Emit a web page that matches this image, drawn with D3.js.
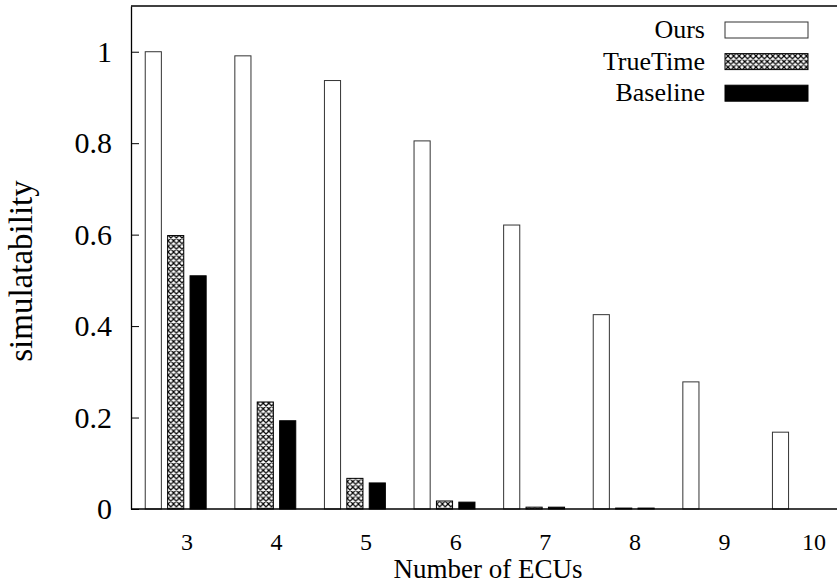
<!DOCTYPE html>
<html>
<head>
<meta charset="utf-8">
<script src="https://cdn.jsdelivr.net/npm/d3@7"></script>
<style>
  html, body { margin: 0; padding: 0; background: #fff; }
  svg { display: block; }
  text { font-family: "Liberation Serif", "Times New Roman", serif; fill: #000; }
</style>
</head>
<body>
<svg id="chart" width="837" height="584"></svg>
<script>
const categories = ["3", "4", "5", "6", "7", "8", "9", "10"];
const seriesNames = ["Ours", "TrueTime", "Baseline"];
const ours     = [1.0, 0.991, 0.937, 0.805, 0.621, 0.425, 0.278, 0.168];
const trueTime = [0.598, 0.234, 0.067, 0.0175, 0.004, 0.002, 0, 0];
const baseline = [0.510, 0.193, 0.057, 0.015, 0.004, 0.002, 0, 0];
const yTicks = [0, 0.2, 0.4, 0.6, 0.8, 1];
const yTickLabels = ["0", "0.2", "0.4", "0.6", "0.8", "1"];

const seriesValues = [ours, trueTime, baseline];

const svg = d3.select("#chart");
const W = 837, H = 584;
const plot = { left: 131, top: 6, bottom: 509 };

// crosshatch pattern
const defs = svg.append("defs");
const P = 5.6;
const pat = defs.append("pattern")
  .attr("id", "xhatch").attr("patternUnits", "userSpaceOnUse")
  .attr("width", P).attr("height", P);
pat.append("rect").attr("width", P).attr("height", P).attr("fill", "#fff");
pat.append("path")
  .attr("d", `M0,0 L${P},${P} M${P},0 L0,${P} M-1,${P-1} L1,${P+1} M${P-1},-1 L${P+1},1 M-1,1 L1,-1 M${P-1},${P+1} L${P+1},${P-1}`)
  .attr("stroke", "#000").attr("stroke-width", 1.2);

const fills = ["#fff", "url(#xhatch)", "#000"];

const step = 89.6;
const x = d3.scaleBand()
  .domain(categories)
  .range([142.1, 142.1 + step * categories.length])
  .paddingInner(0).paddingOuter(0);
const slot = step / 4;
const xs = d3.scaleBand()
  .domain(seriesNames)
  .range([0, slot * 3])
  .paddingInner(0.28).paddingOuter(0.14);

const y = d3.scaleLinear().domain([0, 1.1]).range([plot.bottom, plot.top]);

// bars
seriesNames.forEach((s, si) => {
  svg.append("g").selectAll("rect")
    .data(categories.map((c, i) => ({ c, v: seriesValues[si][i] })))
    .join("rect")
    .attr("x", d => x(d.c) + xs(s))
    .attr("width", xs.bandwidth())
    .attr("y", d => y(d.v))
    .attr("height", d => y(0) - y(d.v))
    .attr("fill", fills[si])
    .attr("stroke", si === 0 ? "#333" : "#000")
    .attr("stroke-width", d => d.v > 0 ? 1 : 0);
});

// frame: top and bottom
svg.append("line").attr("x1", plot.left).attr("x2", W).attr("y1", plot.top).attr("y2", plot.top)
  .attr("stroke", "#000").attr("stroke-width", 1.3);
svg.append("line").attr("x1", plot.left).attr("x2", W).attr("y1", plot.bottom).attr("y2", plot.bottom)
  .attr("stroke", "#000").attr("stroke-width", 1.3);

// y axis
const yAxis = d3.axisLeft(y)
  .tickValues(yTicks)
  .tickFormat((d, i) => yTickLabels[i])
  .tickSizeInner(-8).tickSizeOuter(0).tickPadding(19);
const gy = svg.append("g").attr("transform", `translate(${plot.left},0)`).call(yAxis);
gy.select(".domain").attr("stroke", "#000").attr("stroke-width", 1.3);
gy.selectAll(".tick line").attr("stroke", "#000").attr("stroke-width", 1);
gy.selectAll(".tick text")
  .style("font-family", '"Liberation Serif", serif')
  .style("font-size", "30px").attr("fill", "#000");

// x tick labels (no tick marks)
const xAxis = d3.axisBottom(x).tickSize(0).tickPadding(0);
const gx = svg.append("g").attr("transform", `translate(${2 * slot - step / 2},${plot.bottom})`).call(xAxis);
gx.select(".domain").remove();
gx.selectAll(".tick text")
  .attr("y", 41).attr("dy", 0)
  .style("font-family", '"Liberation Serif", serif')
  .style("font-size", "24px").attr("fill", "#000");

// axis titles
svg.append("text").attr("x", 488).attr("y", 578)
  .attr("text-anchor", "middle").style("font-size", "27px").text("Number of ECUs");
svg.append("text").attr("transform", "translate(32,271) rotate(-90)")
  .attr("text-anchor", "middle").style("font-size", "33px").text("simulatability");

// legend
const legend = svg.append("g");
seriesNames.forEach((s, i) => {
  const yy = 22 + i * 31.6;
  legend.append("text").attr("x", 705).attr("y", yy + 16)
    .attr("text-anchor", "end").style("font-size", "26px").text(s);
  legend.append("rect").attr("x", 725).attr("y", yy).attr("width", 83).attr("height", 16)
    .attr("fill", fills[i]).attr("stroke", i === 0 ? "#333" : "#000").attr("stroke-width", 1);
});
</script>
</body>
</html>
